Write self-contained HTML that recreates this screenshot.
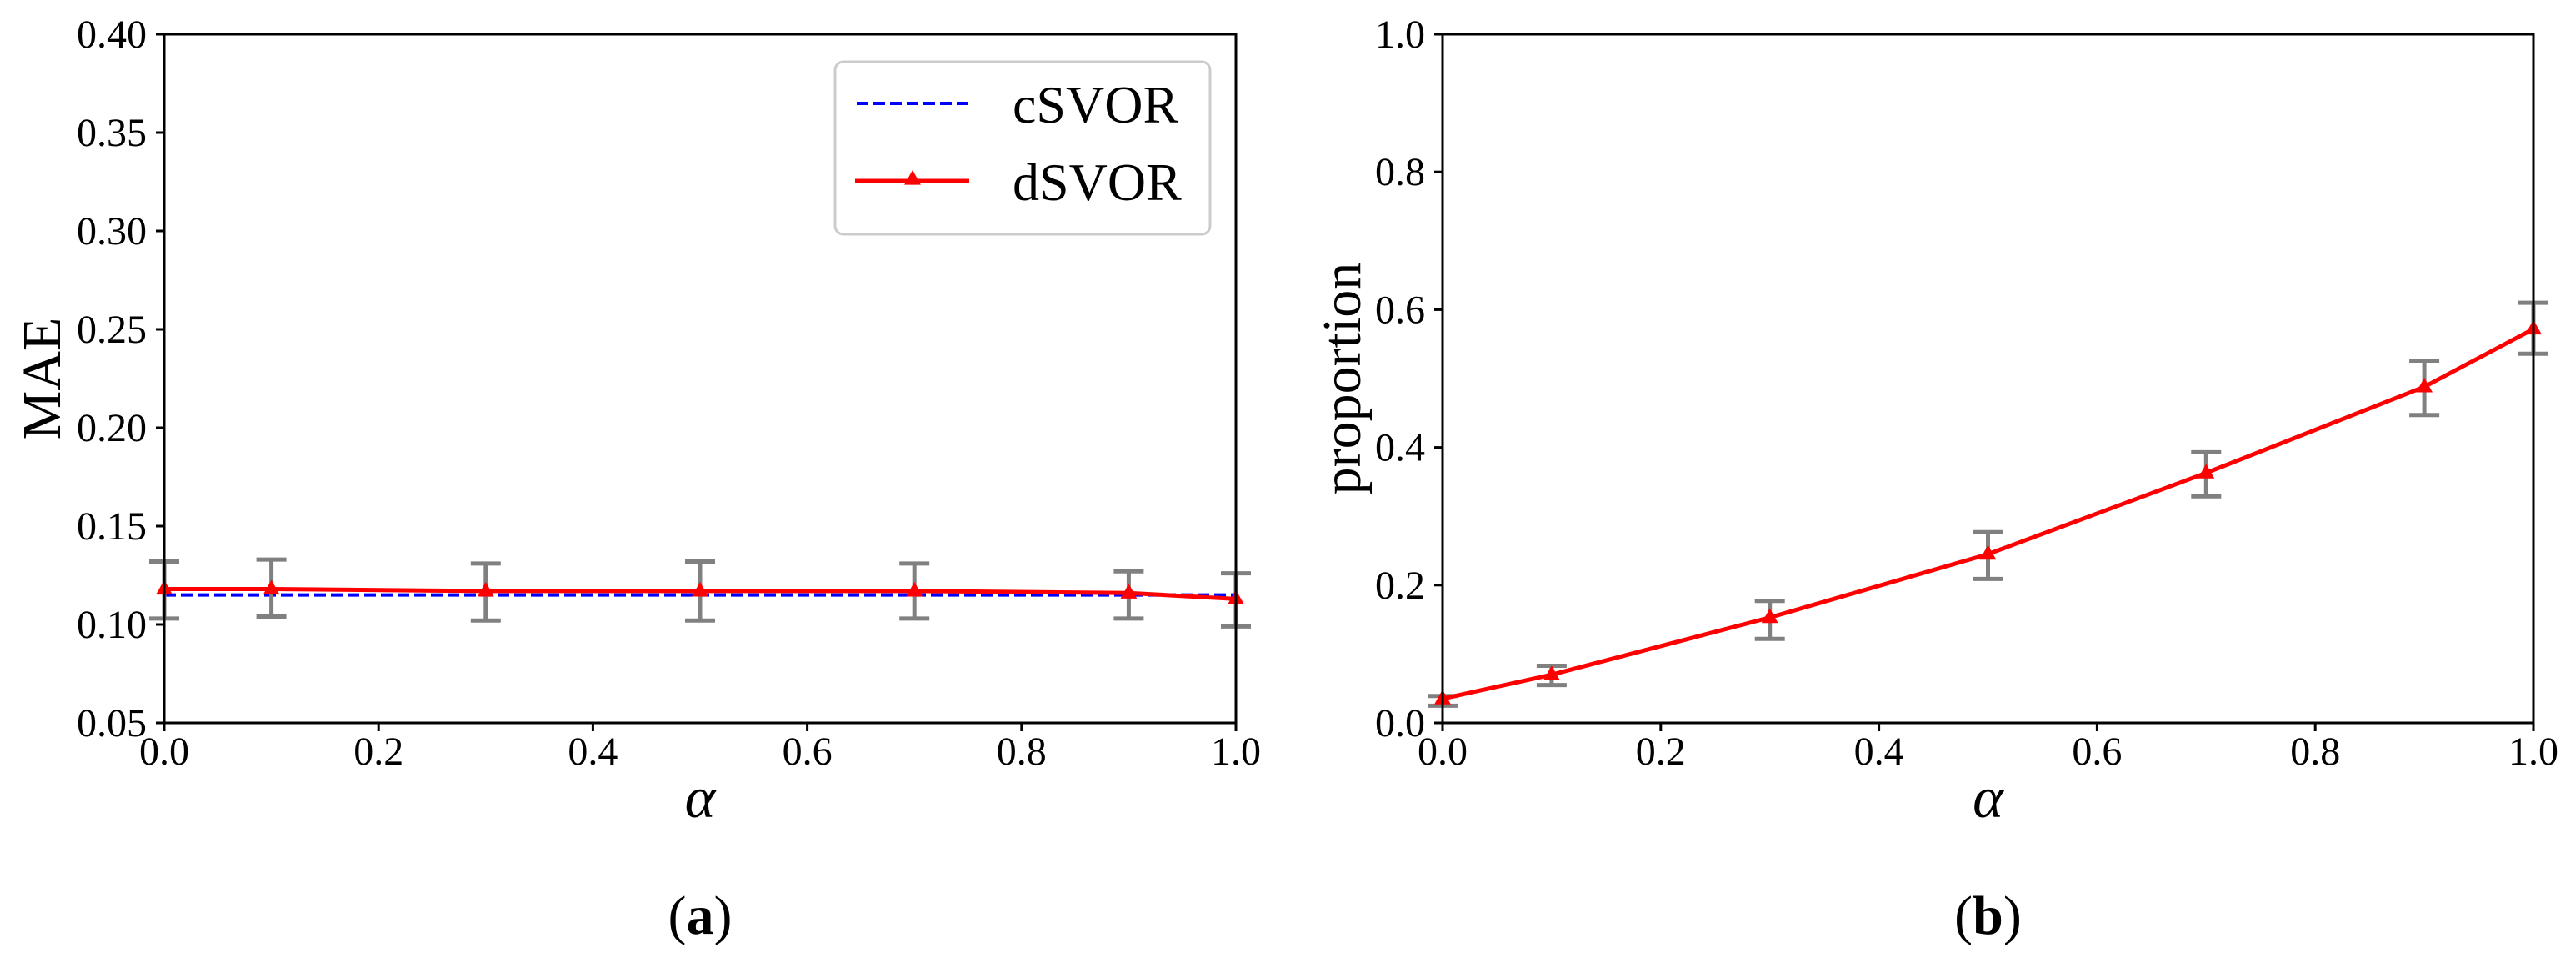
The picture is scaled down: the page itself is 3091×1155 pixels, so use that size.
<!DOCTYPE html>
<html><head><meta charset="utf-8"><style>
html,body{margin:0;padding:0;background:#fff;}
svg text{font-family:"Liberation Serif",serif;fill:#000;}
</style></head><body>
<svg id="fig" width="3091" height="1150" xmlns="http://www.w3.org/2000/svg">
<g id="pa"></g>
<g id="pb"></g>
</svg>
<script>
const alphas = [0, 0.1, 0.3, 0.5, 0.7, 0.9, 1.0];
const maeD = [0.118, 0.118, 0.117, 0.117, 0.117, 0.116, 0.113];
const maeDHi = [0.132, 0.133, 0.131, 0.132, 0.131, 0.127, 0.126];
const maeDLo = [0.103, 0.104, 0.102, 0.102, 0.103, 0.103, 0.099];
const maeC = [0.115, 0.115, 0.115, 0.115, 0.115, 0.115, 0.115];
const prop = [0.035, 0.07, 0.153, 0.245, 0.363, 0.488, 0.572];
const propHi = [0.039, 0.083, 0.177, 0.277, 0.393, 0.526, 0.61];
const propLo = [0.025, 0.055, 0.122, 0.209, 0.329, 0.447, 0.536];
const xTicks = ['0.0','0.2','0.4','0.6','0.8','1.0'];
const yTicksA = ['0.05','0.10','0.15','0.20','0.25','0.30','0.35','0.40'];
const yTicksB = ['0.0','0.2','0.4','0.6','0.8','1.0'];
const NS='http://www.w3.org/2000/svg';
function mk(p,tag,a){const e=document.createElementNS(NS,tag);for(const k in a)e.setAttribute(k,a[k]);p.appendChild(e);return e;}
function tri(cx,cy,s){return `${cx},${cy-s} ${cx-s*0.9},${cy+s*0.6} ${cx+s*0.9},${cy+s*0.6}`;}
function panel(g,L,R,T,B,ymin,ymax,yt,ylab,ylabX,cap,series){
  const sx=v=>L+(v-0)/(1-0)*(R-L);
  const sy=v=>B-(v-ymin)/(ymax-ymin)*(B-T);
  xTicks.forEach(t=>{const x=sx(parseFloat(t));
    let l=mk(g,'line',{x1:x,x2:x,y1:B,y2:B+10,stroke:'#000','stroke-width':3});
    
    
    let tx=mk(g,'text',{x:x,y:B+50,'font-size':48,'text-anchor':'middle'});tx.textContent=t;
    
    });
  yt.forEach(t=>{const y=sy(parseFloat(t));
    let l=mk(g,'line',{x1:L-10,x2:L,y1:y,y2:y,stroke:'#000','stroke-width':3});
    
    
    let tx=mk(g,'text',{x:L-21,y:y+16,'font-size':48,'text-anchor':'end'});tx.textContent=t;
    
    });
  series.forEach(s=>{
    if(s.dash){
      let p=mk(g,'polyline',{points:alphas.map((a,i)=>sx(a)+','+sy(s.v[i])).join(' '),fill:'none',stroke:'#0000ff','stroke-width':4,'stroke-dasharray':'14 6'});
      
      
    } else {
      alphas.forEach((a,i)=>{const x=sx(a);
        let e=mk(g,'path',{d:`M${x},${sy(s.hi[i])}V${sy(s.lo[i])}M${x-18},${sy(s.hi[i])}h36M${x-18},${sy(s.lo[i])}h36`,stroke:'#808080','stroke-width':5,fill:'none'});
        
        });
      let p=mk(g,'polyline',{points:alphas.map((a,i)=>sx(a)+','+sy(s.v[i])).join(' '),fill:'none',stroke:'#ff0000','stroke-width':5});
      
      
      alphas.forEach((a,i)=>{let m=mk(g,'polygon',{points:tri(sx(a),sy(s.v[i]),11),fill:'#ff0000'});
        
        });
    }
  });
  let fr=mk(g,'rect',{x:L,y:T,width:R-L,height:B-T,fill:'none',stroke:'#000','stroke-width':3});
  
  
  let yl=mk(g,'text',{x:ylabX,y:(T+B)/2,'font-size':66,'text-anchor':'middle',transform:`rotate(-90 ${ylabX} ${(T+B)/2})`});
  yl.textContent=ylab;
  
  
  let xl=mk(g,'text',{x:(L+R)/2,y:980,'font-size':70,'font-style':'italic','text-anchor':'middle'});
  xl.textContent='α';
  
  
  let c=mk(g,'text',{x:(L+R)/2,y:1120,'font-size':66,'text-anchor':'middle'});
  
  
  c.appendChild(document.createTextNode('('));
  let ts=mk(c,'tspan',{'font-weight':'bold'});ts.textContent=cap;
  c.appendChild(document.createTextNode(')'));
}
const ga=document.getElementById('pa'),gb=document.getElementById('pb');
panel(ga,197,1483,41,867,0.05,0.40,yTicksA,'MAE',72,'a',[{dash:true,v:maeC},{v:maeD,hi:maeDHi,lo:maeDLo}]);
panel(gb,1731,3040,41,867,0,1,yTicksB,'proportion',1632,'b',[{v:prop,hi:propHi,lo:propLo}]);
const lg=mk(ga,'g',{});


mk(lg,'rect',{x:1002,y:74,width:450,height:207,rx:10,fill:'#fff',stroke:'#cccccc','stroke-width':3});
let l1=mk(lg,'line',{x1:1028,x2:1163,y1:124,y2:124,stroke:'#0000ff','stroke-width':4,'stroke-dasharray':'14 6'});


let t1=mk(lg,'text',{x:1215,y:147,'font-size':64});t1.textContent='cSVOR';


let l2=mk(lg,'line',{x1:1026,x2:1163,y1:217,y2:217,stroke:'#ff0000','stroke-width':5});


mk(lg,'polygon',{points:tri(1095,215,11),fill:'#ff0000'});
let t2=mk(lg,'text',{x:1215,y:240,'font-size':64});t2.textContent='dSVOR';


</script>
</body></html>
